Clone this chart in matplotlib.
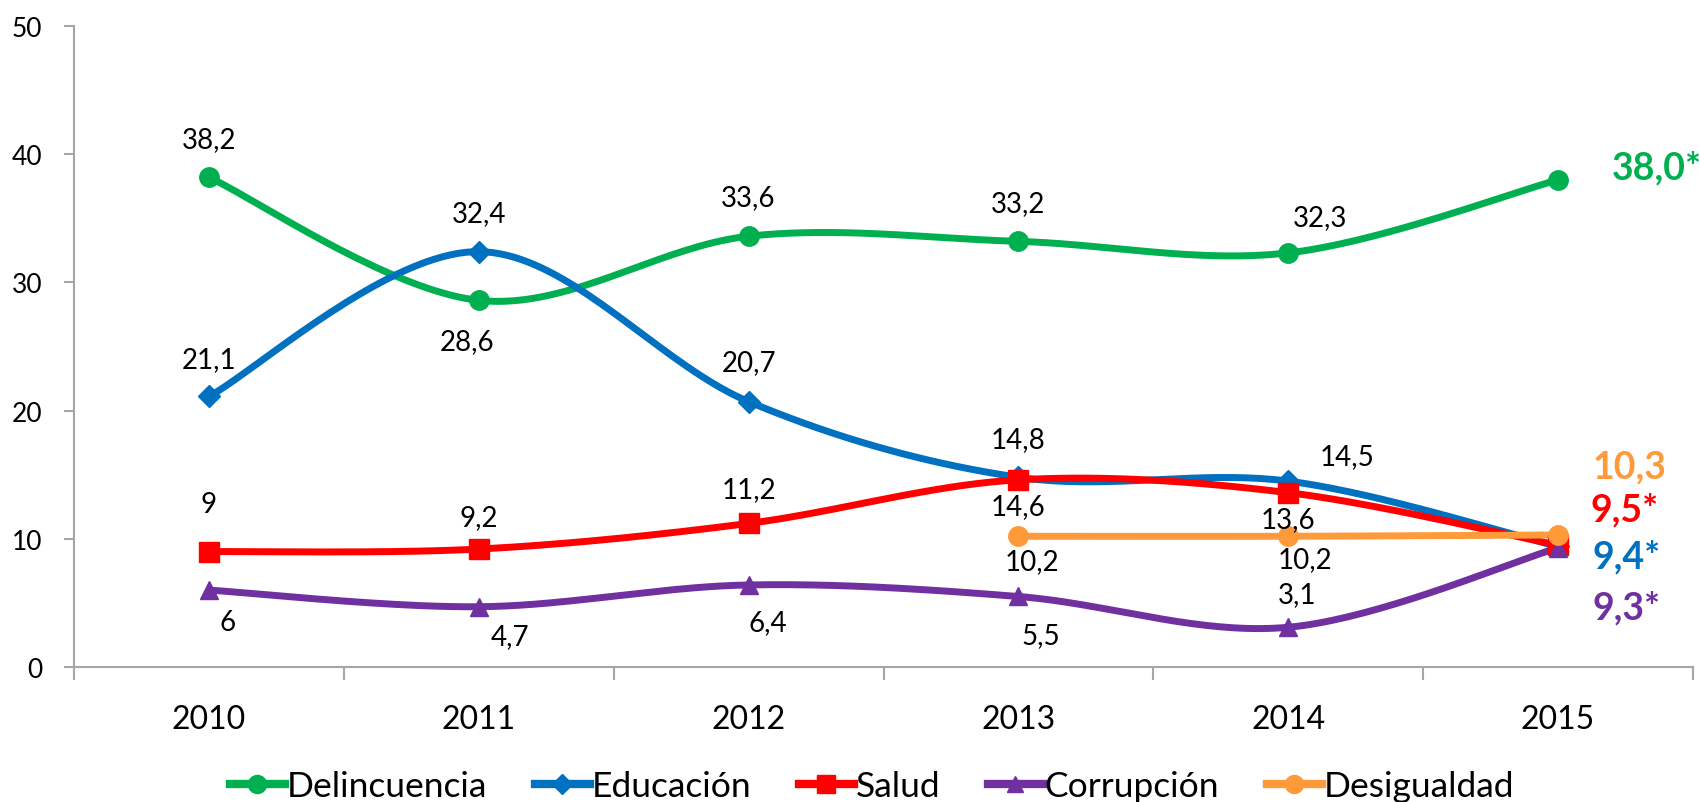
import numpy as np
import matplotlib.pyplot as plt
from matplotlib.lines import Line2D

plt.rcParams['font.family'] = ['Lato', 'DejaVu Sans']

years = ['2010', '2011', '2012', '2013', '2014', '2015']
delincuencia = [38.2, 28.6, 33.6, 33.2, 32.3, 38.0]
educacion = [21.1, 32.4, 20.7, 14.8, 14.5, 9.4]
salud = [9, 9.2, 11.2, 14.6, 13.6, 9.5]
corrupcion = [6, 4.7, 6.4, 5.5, 3.1, 9.3]
desigualdad = [None, None, None, 10.2, 10.2, 10.3]
names = ['Delincuencia', 'Educación', 'Salud', 'Corrupción', 'Desigualdad']
last_star = [True, True, True, True, False]


def smooth(xs, ys, n=40):
    # Catmull-Rom style curve through the points, like Excel's smoothed lines
    xs = np.asarray(xs, float)
    ys = np.asarray(ys, float)
    px = np.concatenate([[xs[0]], xs, [xs[-1]]])
    py = np.concatenate([[ys[0]], ys, [ys[-1]]])
    outx, outy = [], []
    for i in range(1, len(px) - 2):
        p0 = np.array([px[i], py[i]])
        p3 = np.array([px[i + 1], py[i + 1]])
        c1 = p0 + (np.array([px[i + 1], py[i + 1]]) - np.array([px[i - 1], py[i - 1]])) / 6
        c2 = p3 - (np.array([px[i + 2], py[i + 2]]) - np.array([px[i], py[i]])) / 6
        t = np.linspace(0, 1, n)[:, None]
        b = ((1 - t) ** 3) * p0 + 3 * ((1 - t) ** 2) * t * c1 + 3 * (1 - t) * t ** 2 * c2 + t ** 3 * p3
        outx.extend(b[:, 0])
        outy.extend(b[:, 1])
    return outx, outy


series = [delincuencia, educacion, salud, corrupcion, desigualdad]
colors = ['#00B050', '#0070C0', '#FF0000', '#7030A0', '#FF9A3A']
markers = ['o', 'D', 's', '^', 'o']
msizes = [14, 11, 14, 13, 14]
# label offsets in pixels (dx, dy) for the 2010-2014 points
offsets = [
    [(0, 38), (-12, -41), (0, 39), (0, 38), (32, 36)],
    [(0, 37), (0, 39), (0, 40), (0, 38), (59, 25)],
    [(0, 48), (0, 32), (0, 34), (0, -26), (0, -26)],
    [(19, -32), (31, -29), (19, -37), (22, -39), (9, 33)],
    [None, None, None, (14, -25), (17, -23)],
]
end_label_x = [1612, 1593, 1591, 1593, 1593]
end_label_y = [168, 557, 510, 608, 467]

fig = plt.figure(figsize=(17, 8.03), dpi=100)
ax = fig.add_axes([74 / 1700, 1 - 668 / 803, (1693 - 74) / 1700, (668 - 27) / 803])

x = np.arange(len(years))
order = [3, 0, 1, 2, 4]
for k in order:
    vals = series[k]
    idx = [i for i, v in enumerate(vals) if v is not None]
    xv = x[idx]
    yv = [vals[i] for i in idx]
    sx, sy = smooth(xv, yv)
    ax.plot(sx, sy, color=colors[k], lw=5, solid_capstyle='round', zorder=2 + k * 0.1)
    ax.plot(xv, yv, ls='none', marker=markers[k], ms=msizes[k], color=colors[k],
            mec=colors[k], zorder=3 + k * 0.1)
    for i in idx:
        if i == 5:
            continue
        dx, dy = offsets[k][i]
        txt = '{:g}'.format(vals[i]).replace('.', ',')
        ax.annotate(txt, (x[i], vals[i]), xytext=(dx, dy), textcoords='offset pixels',
                    ha='center', va='center', fontsize=20, color='black', zorder=5)
    last = '{:.1f}'.format(vals[5]).replace('.', ',') + ('*' if last_star[k] else '')
    fig.text(end_label_x[k] / 1700, 1 - end_label_y[k] / 803, last, color=colors[k],
             fontsize=27, fontweight='bold', ha='left', va='center')

ax.set_xlim(-0.5, 5.5)
ax.set_ylim(0, 50)
ax.set_yticks([0, 10, 20, 30, 40, 50])
ax.set_xticks(x)
ax.set_xticklabels(years)
ax.set_xticks(np.arange(-0.5, 6, 1), minor=True)
ax.tick_params(axis='x', which='major', length=0, pad=27, labelsize=23)
ax.tick_params(axis='x', which='minor', length=9, width=1.5, color='#A6A6A6', direction='out')
ax.tick_params(axis='y', length=7, width=1.5, color='#A6A6A6', pad=16, labelsize=19)

for s in ['top', 'right']:
    ax.spines[s].set_visible(False)
for s in ['left', 'bottom']:
    ax.spines[s].set_color('#A6A6A6')
    ax.spines[s].set_linewidth(1.5)

handles = [Line2D([], [], color=colors[k], lw=6, marker=markers[k], ms=msizes[k] - 1,
                  mec=colors[k]) for k in range(5)]
fig.legend(handles, names, loc='center', bbox_to_anchor=(872 / 1700, 1 - 787 / 803),
           ncol=5, frameon=False, fontsize=25.5, handlelength=1.55, handletextpad=0.05,
           columnspacing=1.35, borderaxespad=0)

fig.savefig('out.png', dpi=100)
